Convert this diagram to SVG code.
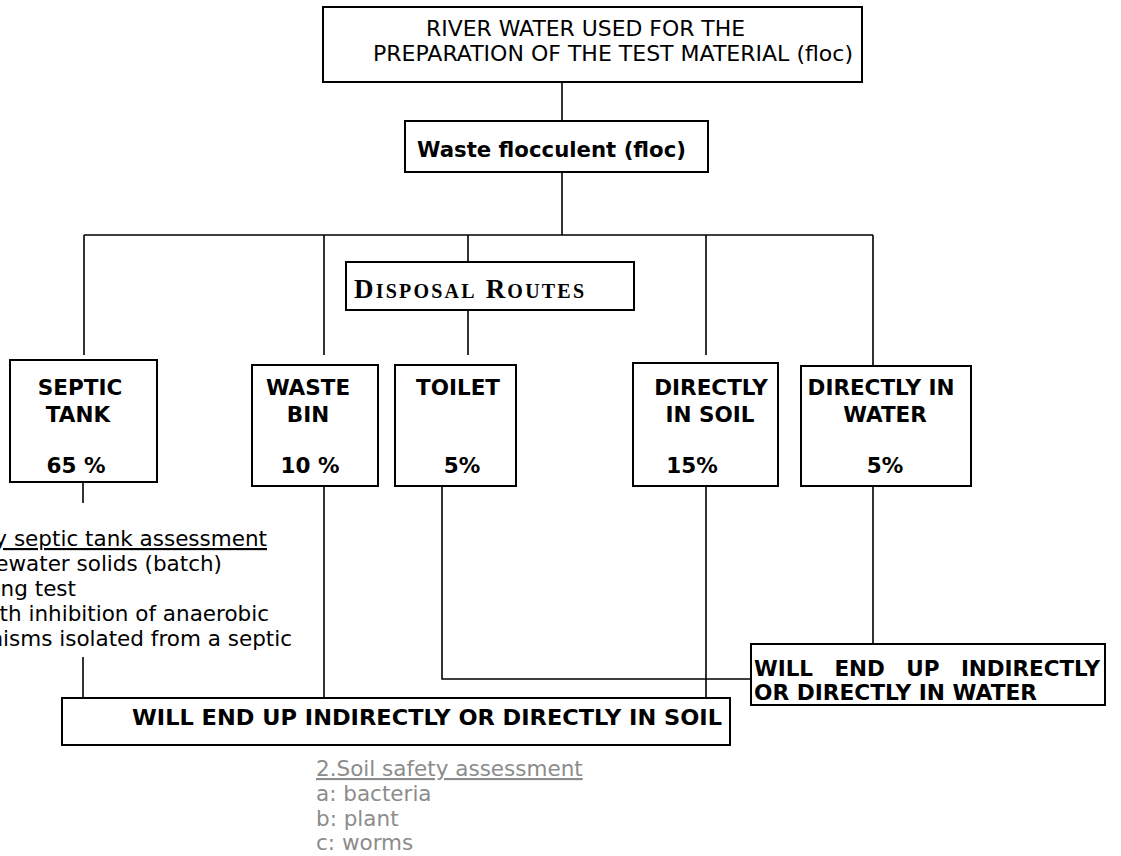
<svg xmlns="http://www.w3.org/2000/svg" width="1121" height="856" viewBox="0 0 1121 856">
<style>
.box{fill:#fff;stroke:#000;stroke-width:2}
.ln{fill:none;stroke:#000;stroke-width:1.6}
.r{font-family:"DejaVu Sans","Liberation Sans",sans-serif;font-size:21.5px;fill:#000}
.b{font-family:"DejaVu Sans","Liberation Sans",sans-serif;font-size:21.5px;font-weight:bold;fill:#000}
.c{text-anchor:middle}
.g{font-family:"DejaVu Sans","Liberation Sans",sans-serif;font-size:21.5px;fill:#8c8c8c}
.tr{font-family:"Liberation Serif","Times New Roman",serif;font-weight:bold;fill:#000}
</style>
<rect width="1121" height="856" fill="#fff"/>
<g id="connectors">
<path class="ln" d="M562 82V121M562 172V235M84 235H873M84 235V355M324 235V355M468 235V262M468 310V355M706 235V355M873 235V378"/>
<path class="ln" d="M83 482V503M83 657V698M324 486V698M442 486V679H751M706 486V698M873 486V644"/>
</g>
<g id="river-water">
<rect class="box" x="323" y="7" width="539" height="75"/>
<text class="r" x="426" y="36" textLength="319" lengthAdjust="spacingAndGlyphs">RIVER WATER USED FOR THE</text>
<text class="r" x="373" y="61" textLength="480" lengthAdjust="spacingAndGlyphs">PREPARATION OF THE TEST MATERIAL (floc)</text>
</g>
<g id="waste-flocculent">
<rect class="box" x="405" y="121" width="303" height="51"/>
<text class="b" x="417" y="157" textLength="269" lengthAdjust="spacingAndGlyphs">Waste flocculent (floc)</text>
</g>
<g id="disposal-routes">
<rect class="box" x="346" y="262" width="288" height="48"/>
<text class="tr" x="354" y="298" textLength="230" font-size="27">D<tspan font-size="20">ISPOSAL</tspan> R<tspan font-size="20">OUTES</tspan></text>
</g>
<g id="septic-tank">
<rect class="box" x="10" y="360" width="147" height="122"/>
<text class="b c" x="80" y="395">SEPTIC</text>
<text class="b c" x="78" y="422">TANK</text>
<text class="b c" x="76" y="473">65 %</text>
</g>
<g id="waste-bin">
<rect class="box" x="252" y="365" width="126" height="121"/>
<text class="b c" x="308" y="395">WASTE</text>
<text class="b c" x="308" y="422">BIN</text>
<text class="b c" x="310" y="473">10 %</text>
</g>
<g id="toilet">
<rect class="box" x="395" y="365" width="121" height="121"/>
<text class="b c" x="458" y="395">TOILET</text>
<text class="b c" x="462" y="473">5%</text>
</g>
<g id="directly-in-soil">
<rect class="box" x="633" y="363" width="145" height="123"/>
<text class="b c" x="711" y="395">DIRECTLY</text>
<text class="b c" x="710" y="422">IN SOIL</text>
<text class="b c" x="692" y="473">15%</text>
</g>
<g id="directly-in-water">
<rect class="box" x="801" y="366" width="170" height="120"/>
<text class="b c" x="881" y="395">DIRECTLY IN</text>
<text class="b c" x="885" y="422">WATER</text>
<text class="b c" x="885" y="473">5%</text>
</g>
<g id="septic-assessment">
<text class="r" x="267" y="546" text-anchor="end" text-decoration="underline">y septic tank assessment</text>
<text class="r" x="222" y="571" text-anchor="end">ewater solids (batch)</text>
<text class="r" x="76" y="596" text-anchor="end">ing test</text>
<text class="r" x="269" y="621" text-anchor="end">rth inhibition of anaerobic</text>
<text class="r" x="292" y="646" text-anchor="end">nisms isolated from a septic</text>
</g>
<g id="end-in-water">
<rect class="box" x="751" y="644" width="354" height="61"/>
<text class="b" x="754" y="676" textLength="346" lengthAdjust="spacing" word-spacing="14">WILL END UP INDIRECTLY</text>
<text class="b" x="754" y="700" textLength="283" lengthAdjust="spacingAndGlyphs">OR DIRECTLY IN WATER</text>
</g>
<g id="end-in-soil">
<rect class="box" x="62" y="698" width="668" height="47"/>
<text class="b" x="132" y="725" textLength="590" lengthAdjust="spacingAndGlyphs">WILL END UP INDIRECTLY OR DIRECTLY IN SOIL</text>
</g>
<g id="soil-assessment">
<text class="g" x="316" y="776" text-decoration="underline">2.Soil safety assessment</text>
<text class="g" x="316" y="801">a: bacteria</text>
<text class="g" x="316" y="826">b: plant</text>
<text class="g" x="316" y="850">c: worms</text>
</g>
</svg>
